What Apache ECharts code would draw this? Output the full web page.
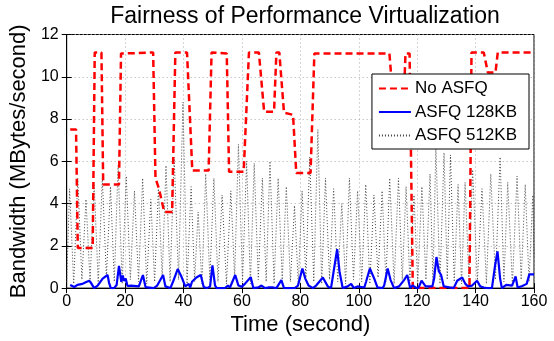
<!DOCTYPE html>
<html>
<head>
<meta charset="utf-8">
<script src="https://cdn.jsdelivr.net/npm/echarts@6/dist/echarts.min.js"></script>
<style>
  html, body { margin: 0; padding: 0; background: #fff; }
  #chart { width: 554px; height: 341px; }
</style>
</head>
<body>
<div id="chart"></div>
<script>
// [time (s), bandwidth (MB/s)]
const noAsfq = [
  [1.2, 7.5], [3.2, 7.5], [3.8, 1.9], [8.9, 1.9], [9.6, 11.15], [11.9, 11.15],
  [12.5, 4.9], [17.9, 4.9], [18.6, 11.1], [24.0, 11.12], [29.6, 11.15],
  [30.4, 5.2], [31.6, 4.7], [33.4, 3.6], [36.1, 3.6], [37.2, 11.15], [41.2, 11.15],
  [43.0, 5.56], [48.6, 5.56], [49.6, 11.15], [54.8, 11.1], [55.6, 5.5],
  [58.2, 5.5], [60.6, 5.5], [62.4, 11.15], [65.8, 11.15], [67.6, 8.35],
  [71.0, 8.35], [71.8, 11.15], [72.8, 11.15], [74.4, 8.3], [77.5, 8.2],
  [78.6, 5.45], [83.5, 5.45], [84.8, 11.1], [110.5, 11.1], [112.0, 8.5],
  [115.3, 8.5], [116.0, 11.1], [117.4, 11.1], [118.5, 0.0], [137.9, 0.0],
  [138.6, 11.15], [142.8, 11.15], [144.2, 10.2], [146.8, 10.2],
  [147.6, 11.15], [160, 11.15]
];

const asfq128 = [
  [1.2, 0.15], [2.6, 0.05], [3.7, 0.15], [5.4, 0.2], [6.5, 0.28], [7.7, 0.35],
  [8.3, 0.25], [9.4, 0.0], [10.6, 0.12], [12.3, 0.45], [14.0, 0.62], [14.5, 0.25],
  [15.1, 0.0], [16.2, 0.0], [17.1, 0.15], [17.9, 1.05], [18.7, 0.3], [19.2, 0.6],
  [19.6, 0.35], [20.2, 0.45], [20.8, 0.1], [22.0, 0.12], [24.7, 0.08], [26.1, 0.62],
  [27.0, 0.05], [29.8, 0.0], [31.0, 0.12], [33.0, 0.62], [33.8, 0.08], [35.5, 0.0],
  [36.4, 0.3], [38.0, 0.9], [39.1, 0.6], [40.6, 0.08], [41.8, 0.2], [42.3, 0.03],
  [42.9, 0.3], [44.4, 0.5], [45.9, 0.62], [46.9, 0.05], [48.0, 0.0], [49.1, 0.08],
  [49.9, 1.07], [50.8, 0.12], [51.4, 0.0], [54.2, 0.0], [55.2, 0.12], [55.9, 0.03],
  [57.7, 0.62], [58.8, 0.12], [59.9, 0.06], [61.0, 0.2], [63.0, 0.52], [63.9, 0.0],
  [65.6, 0.03], [66.7, 0.12], [67.9, 0.0], [69.0, 0.03], [70.7, 0.03], [71.8, 0.0],
  [73.5, 0.38], [74.4, 0.0], [78.1, 0.0], [79.2, 0.12], [80.7, 0.93], [81.7, 0.45],
  [82.8, 0.12], [84.3, 0.0], [85.4, 0.12], [87.7, 0.5], [89.4, 0.08], [90.5, 0.0],
  [91.5, 0.88], [92.6, 1.84], [93.4, 0.8], [94.5, 0.0], [96.2, 0.08], [97.4, 0.2],
  [98.3, 0.0], [99.6, 0.08], [101.9, 0.03], [102.5, 0.3], [103.8, 0.93], [105.3, 0.45],
  [106.4, 0.03], [108.1, 0.0], [108.7, 0.12], [109.9, 0.93], [110.9, 0.38], [112.1, 0.0],
  [113.8, 0.08], [114.4, 0.0], [115.5, 0.38], [116.6, 0.62], [117.6, 0.0], [118.4, 0.12],
  [119.5, 0.03], [120.4, 0.0], [121.5, 0.35], [122.9, 0.08], [125.2, 0.08], [125.8, 0.45],
  [126.6, 1.47], [127.4, 0.8], [128.2, 0.62], [129.1, 0.08], [131.4, 0.03], [132.5, 0.0],
  [133.7, 0.35], [135.4, 0.5], [136.5, 0.2], [137.4, 0.08], [138.8, 0.12], [140.5, 0.35],
  [141.6, 0.08], [142.8, 0.03], [143.9, 0.0], [145.6, 0.0], [146.7, 1.1], [147.5, 1.74],
  [148.4, 0.45], [149.0, 0.0], [150.5, 0.15], [152.5, 0.12], [153.7, 0.55], [154.4, 0.03],
  [156.0, 0.1], [157.5, 0.2], [158.4, 0.65], [160, 0.65]
];

const asfq512 = [
  [0.0, 0.3], [1.0, 4.7], [2.4, 0.2], [3.8, 5.2], [5.2, 0.4], [6.6, 4.2], [8.0, 0.3],
  [9.4, 5.0], [10.8, 0.2], [12.2, 5.2], [13.6, 0.5], [15.0, 4.8], [16.3, 0.3],
  [17.6, 5.8], [19.0, 0.2], [20.4, 5.3], [21.8, 0.4], [23.2, 4.6], [24.6, 0.3],
  [26.0, 5.2], [27.4, 0.2], [28.8, 4.2], [30.1, 0.3], [31.4, 4.7], [32.7, 0.5],
  [34.0, 5.8], [35.4, 0.3], [36.8, 6.2], [38.3, 0.4], [39.8, 8.8], [41.2, 0.2],
  [42.6, 4.8], [43.8, 0.3], [45.0, 3.6], [46.3, 0.2], [47.6, 5.4], [49.0, 0.4],
  [50.4, 5.2], [51.8, 0.3], [53.2, 4.4], [54.7, 0.2], [56.2, 4.6], [57.5, 0.5],
  [58.8, 6.8], [60.2, 0.3], [61.6, 6.0], [62.9, 0.2], [64.2, 5.9], [65.6, 0.4],
  [67.0, 5.2], [68.3, 0.3], [69.6, 6.0], [71.0, 0.2], [72.4, 5.2], [73.8, 0.4],
  [75.2, 4.8], [76.6, 0.3], [78.0, 3.9], [79.3, 0.2], [80.6, 4.6], [81.9, 0.5],
  [83.2, 6.2], [84.6, 0.3], [86.0, 7.5], [87.3, 0.2], [88.6, 5.2], [90.0, 0.4],
  [91.4, 4.7], [92.8, 0.3], [94.2, 4.0], [95.5, 0.2], [96.8, 5.2], [98.2, 0.4],
  [99.6, 4.6], [101.0, 0.3], [102.4, 4.9], [103.8, 0.2], [105.2, 4.4], [106.6, 0.5],
  [108.0, 4.6], [109.3, 0.3], [110.6, 5.2], [112.1, 0.2], [113.6, 5.2], [114.9, 0.4],
  [116.2, 4.8], [117.5, 0.3], [118.9, 4.4], [120.2, 0.2], [121.6, 4.8], [123.0, 0.4],
  [124.4, 5.4], [125.4, 0.3], [126.4, 6.7], [127.8, 0.2], [129.2, 6.4], [130.3, 0.4],
  [131.4, 6.3], [132.7, 0.3], [134.0, 4.9], [135.2, 0.2], [136.4, 5.0], [137.7, 0.5],
  [139.0, 5.6], [140.6, 0.3], [142.2, 4.7], [143.7, 0.2], [145.2, 5.4], [146.8, 0.4],
  [148.4, 6.2], [149.7, 0.3], [151.0, 5.0], [152.6, 0.2], [154.2, 5.3], [155.6, 0.4],
  [157.0, 4.9], [158.3, 0.3], [159.6, 4.4], [160, 1.5]
];

const seriesNames = ['No ASFQ', 'ASFQ 128KB', 'ASFQ 512KB'];

const chart = echarts.init(document.getElementById('chart'));
const font = 'Liberation Sans, Arial, Helvetica, sans-serif';
const gridLine = { show: true, lineStyle: { color: '#aaa', type: [1, 3], width: 1 } };

const option = {
  animation: false,
  backgroundColor: '#fff',
  textStyle: { fontFamily: font },
  title: {
    text: 'Fairness of Performance Virtualization',
    left: 300, top: 0, textAlign: 'center',
    textStyle: { fontFamily: font, fontSize: 23, fontWeight: 'normal', color: '#000' }
  },
  grid: { left: 64, right: 20, top: 34.5, bottom: 48.5, show: true, borderColor: '#000', borderWidth: 1 },
  legend: {
    orient: 'vertical', right: 25, top: 74,
    data: seriesNames,
    backgroundColor: '#fff', borderColor: '#000', borderWidth: 1,
    padding: [6, 12, 5, 6], itemWidth: 32, itemHeight: 14, itemGap: 6.5,
    itemStyle: { opacity: 0 },
    textStyle: { fontFamily: font, fontSize: 17, color: '#000', padding: [0, 0, 0, -1] }
  },
  xAxis: [{
    type: 'value', min: 0, max: 160, interval: 20,
    name: 'Time (second)', nameLocation: 'middle', nameGap: 23,
    nameTextStyle: { fontFamily: font, fontSize: 22, color: '#000' },
    axisLine: { lineStyle: { color: '#000' } },
    axisTick: { inside: true, length: 5, lineStyle: { color: '#000' } },
    axisLabel: { fontFamily: font, fontSize: 16, color: '#000', margin: 5 },
    splitLine: gridLine
  }, {
    type: 'value', min: 0, max: 160, interval: 20, position: 'top',
    axisLine: { lineStyle: { color: '#000' } },
    axisTick: { inside: true, length: 5, lineStyle: { color: '#000' } },
    axisLabel: { show: false }, splitLine: { show: false }
  }],
  yAxis: [{
    type: 'value', min: 0, max: 12, interval: 2,
    name: 'Bandwidth (MBytes/second)', nameLocation: 'middle', nameGap: 25,
    nameTextStyle: { fontFamily: font, fontSize: 22, color: '#000' },
    axisLine: { show: true, lineStyle: { color: '#000' } },
    axisTick: { show: true, inside: true, length: 5, lineStyle: { color: '#000' } },
    axisLabel: { fontFamily: font, fontSize: 16, color: '#000', margin: 8 },
    splitLine: gridLine
  }, {
    type: 'value', min: 0, max: 12, interval: 2, position: 'right',
    axisLine: { show: true, lineStyle: { color: '#000' } },
    axisTick: { show: true, inside: true, length: 5, lineStyle: { color: '#000' } },
    axisLabel: { show: false }, splitLine: { show: false }
  }],
  series: [
    {
      name: 'ASFQ 512KB', type: 'line', data: asfq512, z: 2,
      symbol: 'none', color: '#444',
      lineStyle: { color: '#444', width: 1, type: [1, 2] }
    },
    {
      name: 'No ASFQ', type: 'line', data: noAsfq, z: 3,
      symbol: 'none', color: '#ff0000',
      lineStyle: { color: '#ff0000', width: 2.5, type: [7, 4] }
    },
    {
      name: 'ASFQ 128KB', type: 'line', data: asfq128, z: 4,
      symbol: 'none', color: '#0000ff',
      lineStyle: { color: '#0000ff', width: 2.2 }
    }
  ]
};

chart.setOption(option);
</script>
</body>
</html>
